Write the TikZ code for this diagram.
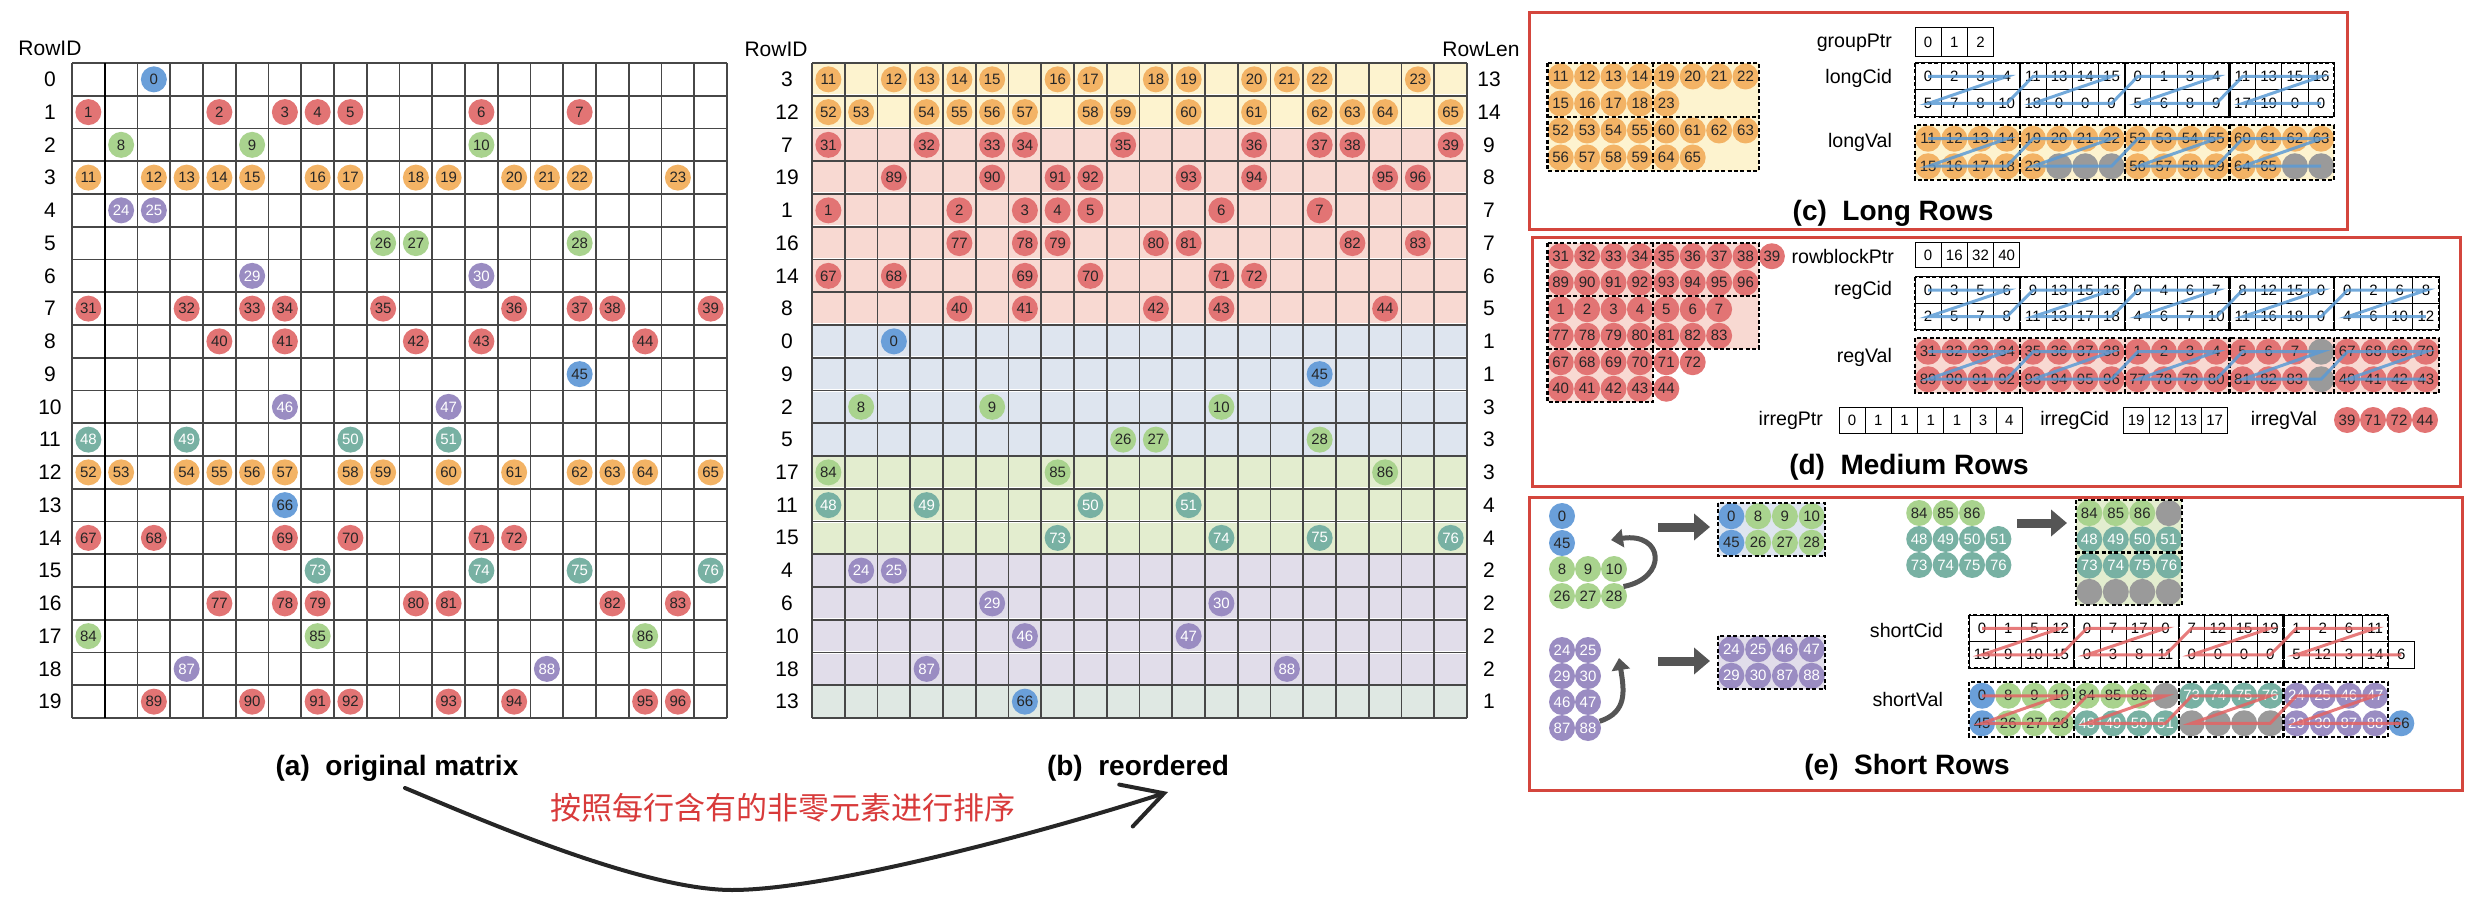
\documentclass[tikz,border=0pt]{standalone}
\usepackage{fontspec}
\setmainfont{Liberation Sans}
\newfontfamily\cjk{Noto Sans CJK SC}
\usetikzlibrary{arrows.meta}
\usepackage{xcolor}

\definecolor{cred}{HTML}{E27474}
\definecolor{corange}{HTML}{F3B365}
\definecolor{cgreen}{HTML}{A9D38E}
\definecolor{cteal}{HTML}{78B1A3}
\definecolor{cpurple}{HTML}{9A8CC2}
\definecolor{cblue}{HTML}{6A9FD9}
\definecolor{cpad}{HTML}{9A9A9A}
\definecolor{bgyellow}{HTML}{FDF3CF}
\definecolor{bgred}{HTML}{F8D9D2}
\definecolor{bgblue}{HTML}{DEE5EF}
\definecolor{bggreen}{HTML}{E3EDCF}
\definecolor{bgpurple}{HTML}{E1DDEA}
\definecolor{bgteal}{HTML}{DFE8E3}
\definecolor{zblue}{HTML}{5B9BD5}
\definecolor{zred}{HTML}{E36464}
\definecolor{frame}{HTML}{D4463D}
\definecolor{note}{HTML}{D83A3A}
\definecolor{arrowgray}{HTML}{555555}

\tikzset{
  dot/.style={circle, inner sep=0pt, minimum size=13pt, text=black!85, font=\fontsize{7.5}{8}\selectfont},
  vr/.style={dot, fill=cred},
  vo/.style={dot, fill=corange},
  vg/.style={dot, fill=cgreen},
  vt/.style={dot, fill=cteal, text=white},
  vp/.style={dot, fill=cpurple, text=white},
  vb/.style={dot, fill=cblue},
  vx/.style={dot, fill=cpad},
  gridline/.style={draw=black!72, line width=0.9pt},
  idx/.style={draw=black, line width=0.5pt, inner sep=0pt, minimum width=13.1pt, font=\fontsize{7.5}{8}\selectfont},
  grp/.style={draw=black, line width=1.1pt, dash pattern=on 2pt off 1.2pt},
  zigb/.style={draw=zblue, line width=1.5pt, opacity=0.85},
  zigr/.style={draw=zred, line width=1.5pt, opacity=0.85},
  tag/.style={anchor=east, font=\fontsize{9.8}{12}\selectfont},
  rowlbl/.style={font=\fontsize{10.5}{12}\selectfont},
  caption/.style={font=\fontsize{14}{16}\selectfont\bfseries},
  panel/.style={draw=frame, line width=1.5pt},
  fatarrow/.style={draw=arrowgray, line width=4.5pt, -{Triangle[length=8pt,width=13pt]}},
  curvarrow/.style={draw=arrowgray, line width=2.5pt, -{Triangle[length=6pt,width=9pt]}},
  sortarrow/.style={draw=black!85, line width=2pt, line cap=round, -{Straight Barb[length=20pt,width=22pt,line cap=round]}},
}

% boxed index cells: name, left, top, height, values
\newcommand\idxrow[5]{%
  \foreach \v [count=\i from 0] in {#5}
    \node[idx, minimum height=#4*0.5pt] (#1-\i) at ({#2+26.2*(\i+0.5)},{#3+#4/2}) {\v};
}
% row of value circles: name, left, centre y, cell width, style/value list
\newcommand\valrow[5]{%
  \foreach \s/\v [count=\i from 0] in {#5}
    \node[\s] (#1-\i) at ({#2+#4*(\i+0.5)},#3) {\v};
}
% dashed groups of four columns: left, top, bottom, cell width, number of groups
\newcommand\groups[5]{%
  \foreach \g in {1,...,#5}
    \draw[grp] ({#1+4*#4*(\g-1)},#2) rectangle ({#1+4*#4*\g},#3);
}
% zig-zag through two rows: style, top row, bottom row, last group, extra path
\newcommand\zigzag[5]{%
  \draw[#1] (#2-0.center) \foreach \g [evaluate=\g as \ga using int(4*\g), evaluate=\g as \gb using int(4*\g+3)] in {0,...,#4} {
    -- (#2-\ga.center) -- (#2-\gb.center) -- (#3-\ga.center) -- (#3-\gb.center) } #5;
}

\begin{document}
\begin{tikzpicture}[x=0.5pt, y=-0.5pt]
\useasboundingbox (0,0) rectangle (2482,898);

% row bands of the reordered matrix
\foreach \bg [count=\p from 0] in {bgyellow,bgyellow,bgred,bgred,bgred,bgred,bgred,bgred,bgblue,bgblue,bgblue,bgblue,bggreen,bggreen,bggreen,bgpurple,bgpurple,bgpurple,bgpurple,bgteal}
  \fill[\bg] (812,{63+32.75*\p+1}) rectangle (1467,{63+32.75*(\p+1)-1.5});

\foreach \i in {0,...,20} {
  \draw[gridline] ({72+32.75*\i},63) -- ({72+32.75*\i},718);
  \draw[gridline] (72,{63+32.75*\i}) -- (727,{63+32.75*\i});
  \draw[gridline] ({812+32.75*\i},63) -- ({812+32.75*\i},718);
  \draw[gridline] (812,{63+32.75*\i}) -- (1467,{63+32.75*\i});
}
\draw[gridline, draw=black, line width=1.2pt] (104.75,63) -- (104.75,718);

% row / position in (b) / colour / length / col-value pairs
\foreach \r/\p/\s/\len/\cells in {
  0/8/vb/1/{2/0},
  1/4/vr/7/{0/1,4/2,6/3,7/4,8/5,12/6,15/7},
  2/10/vg/3/{1/8,5/9,12/10},
  3/0/vo/13/{0/11,2/12,3/13,4/14,5/15,7/16,8/17,10/18,11/19,13/20,14/21,15/22,18/23},
  4/15/vp/2/{1/24,2/25},
  5/11/vg/3/{9/26,10/27,15/28},
  6/16/vp/2/{5/29,12/30},
  7/2/vr/9/{0/31,3/32,5/33,6/34,9/35,13/36,15/37,16/38,19/39},
  8/7/vr/5/{4/40,6/41,10/42,12/43,17/44},
  9/9/vb/1/{15/45},
  10/17/vp/2/{6/46,11/47},
  11/13/vt/4/{0/48,3/49,8/50,11/51},
  12/1/vo/14/{0/52,1/53,3/54,4/55,5/56,6/57,8/58,9/59,11/60,13/61,15/62,16/63,17/64,19/65},
  13/19/vb/1/{6/66},
  14/6/vr/6/{0/67,2/68,6/69,8/70,12/71,13/72},
  15/14/vt/4/{7/73,12/74,15/75,19/76},
  16/5/vr/7/{4/77,6/78,7/79,10/80,11/81,16/82,18/83},
  17/12/vg/3/{0/84,7/85,17/86},
  18/18/vp/2/{3/87,14/88},
  19/3/vr/8/{2/89,5/90,7/91,8/92,11/93,13/94,17/95,18/96}} {
  \pgfmathsetmacro\ya{63+32.75*(\r+0.5)}
  \pgfmathsetmacro\yb{63+32.75*(\p+0.5)}
  \node[rowlbl] (ra\r) at (50,\ya) {\r};
  \node[rowlbl] (rb\r) at (787,\yb) {\r};
  \node[rowlbl] (rl\r) at (1489,\yb) {\len};
  \foreach \c/\v in \cells {
    \node[\s] (a\v) at ({72+32.75*(\c+0.5)},\ya) {\v};
    \node[\s] (b\v) at ({812+32.75*(\c+0.5)},\yb) {\v};
  }
}

\node[rowlbl] (ida) at (50,48) {RowID};
\node[rowlbl] (idb) at (776,49) {RowID};
\node[rowlbl] (lenb) at (1481,49) {RowLen};
\node[caption] (capa) at (397,768) {(a)\ \ original matrix};
\node[caption] (capb) at (1138,768) {(b)\ \ reordered};

\coordinate (sortfrom) at (405,788);
\coordinate (sortto) at (1168,792);
\draw[sortarrow] (sortfrom) .. controls (470,815) and (640,890) .. (732,890) .. controls (830,890) and (1050,830) .. (sortto);
\node[text=note, font=\fontsize{15.5}{18}\selectfont\cjk] (sorttxt) at (783,808) {按照每行含有的非零元素进行排序};

% (c) long rows
\draw[panel] (1529,13) rectangle (2347,230);
\fill[bgyellow] (1547.5,63) rectangle (1758.7,171);
\valrow{cl0}{1547.5}{76.5}{26.4}{vo/11,vo/12,vo/13,vo/14,vo/19,vo/20,vo/21,vo/22}
\valrow{cl1}{1547.5}{103.5}{26.4}{vo/15,vo/16,vo/17,vo/18,vo/23}
\valrow{cl2}{1547.5}{130.5}{26.4}{vo/52,vo/53,vo/54,vo/55,vo/60,vo/61,vo/62,vo/63}
\valrow{cl3}{1547.5}{157.5}{26.4}{vo/56,vo/57,vo/58,vo/59,vo/64,vo/65}
\draw[grp] (1547.5,63) rectangle (1758.7,171);
\draw[grp] (1653.1,63) -- (1653.1,171);
\draw[grp] (1547.5,117) -- (1758.7,117);

\node[tag] (gptag) at (1899,43) {groupPtr};
\idxrow{gp}{1915}{28}{29}{0,1,2}

\node[tag] (lctag) at (1899,78) {longCid};
\idxrow{lcA}{1915}{63}{27}{0,2,3,4,11,13,14,15,0,1,3,4,11,13,15,16}
\idxrow{lcB}{1915}{90}{27}{5,7,8,10,18,0,0,0,5,6,8,9,17,19,0,0}
\groups{1915}{63}{117}{26.2}{4}
\zigzag{zigb}{lcA}{lcB}{3}{}

\node[tag] (lvtag) at (1899,142) {longVal};
\fill[bgyellow] (1915,125) rectangle (2334.2,180);
\valrow{lvA}{1915}{138.75}{26.2}{vo/11,vo/12,vo/13,vo/14,vo/19,vo/20,vo/21,vo/22,vo/52,vo/53,vo/54,vo/55,vo/60,vo/61,vo/62,vo/63}
\valrow{lvB}{1915}{166.25}{26.2}{vo/15,vo/16,vo/17,vo/18,vo/23,vx/{},vx/{},vx/{},vo/56,vo/57,vo/58,vo/59,vo/64,vo/65,vx/{},vx/{}}
\groups{1915}{125}{180}{26.2}{4}
\zigzag{zigb}{lvA}{lvB}{3}{}
\node[caption] (capc) at (1893,213) {(c)\ \ Long Rows};

% (d) medium rows
\draw[panel] (1532,238) rectangle (2460,486);
\fill[bgred] (1547.5,243) rectangle (1758.7,349);
\fill[bgred] (1547.5,349) rectangle (1653.1,402);
\valrow{dl0}{1547.5}{256.25}{26.4}{vr/31,vr/32,vr/33,vr/34,vr/35,vr/36,vr/37,vr/38,vr/39}
\valrow{dl1}{1547.5}{282.75}{26.4}{vr/89,vr/90,vr/91,vr/92,vr/93,vr/94,vr/95,vr/96}
\valrow{dl2}{1547.5}{309.25}{26.4}{vr/1,vr/2,vr/3,vr/4,vr/5,vr/6,vr/7}
\valrow{dl3}{1547.5}{335.75}{26.4}{vr/77,vr/78,vr/79,vr/80,vr/81,vr/82,vr/83}
\valrow{dl4}{1547.5}{362.25}{26.4}{vr/67,vr/68,vr/69,vr/70,vr/71,vr/72}
\valrow{dl5}{1547.5}{388.75}{26.4}{vr/40,vr/41,vr/42,vr/43,vr/44}
\draw[grp] (1547.5,243) -- (1758.7,243) -- (1758.7,349) -- (1653.1,349) -- (1653.1,402) -- (1547.5,402) -- cycle;
\draw[grp] (1653.1,243) -- (1653.1,349);
\draw[grp] (1547.5,296) -- (1758.7,296);
\draw[grp] (1547.5,349) -- (1653.1,349);

\node[tag] (rbtag) at (1901,256) {rowblockPtr};
\idxrow{rbp}{1915}{243}{25}{0,16,32,40}

\node[tag] (rctag) at (1899,290) {regCid};
\idxrow{rcA}{1915}{277}{26.5}{0,3,5,6,9,13,15,16,0,4,6,7,8,12,15,0,0,2,6,8}
\idxrow{rcB}{1915}{303.5}{26.5}{2,5,7,8,11,13,17,18,4,6,7,10,11,16,18,0,4,6,10,12}
\groups{1915}{277}{330}{26.2}{5}
\zigzag{zigb}{rcA}{rcB}{4}{}

\node[tag] (rvtag) at (1899,357) {regVal};
\fill[bgred] (1915,338) rectangle (2439,393);
\valrow{rvA}{1915}{351.75}{26.2}{vr/31,vr/32,vr/33,vr/34,vr/35,vr/36,vr/37,vr/38,vr/1,vr/2,vr/3,vr/4,vr/5,vr/6,vr/7,vx/{},vr/67,vr/68,vr/69,vr/70}
\valrow{rvB}{1915}{379.25}{26.2}{vr/89,vr/90,vr/91,vr/92,vr/93,vr/94,vr/95,vr/96,vr/77,vr/78,vr/79,vr/80,vr/81,vr/82,vr/83,vx/{},vr/40,vr/41,vr/42,vr/43}
\groups{1915}{338}{393}{26.2}{5}
\zigzag{zigb}{rvA}{rvB}{4}{}

\node[tag] (iptag) at (1830,420) {irregPtr};
\idxrow{ip}{1839}{407}{26}{0,1,1,1,1,3,4}
\node[tag] (ictag) at (2116,420) {irregCid};
\idxrow{ic}{2123}{407}{26}{19,12,13,17}
\node[tag] (ivtag) at (2324,420) {irregVal};
\valrow{iv}{2334}{420}{26}{vr/39,vr/71,vr/72,vr/44}
\node[caption] (capd) at (1909,467) {(d)\ \ Medium Rows};

% (e) short rows
\draw[panel] (1529,497) rectangle (2462,790);
\node[vb] (e0) at (1562,516) {0};
\node[vb] (e45) at (1562,543) {45};
\valrow{eg0}{1549}{569}{26}{vg/8,vg/9,vg/10}
\valrow{eg1}{1549}{596}{26}{vg/26,vg/27,vg/28}
\coordinate (bendend1) at (1611,540);
\draw[curvarrow] (eg1-2.north east) .. controls (1668,578) and (1664,532) .. (bendend1);
\coordinate (fat1s) at (1658,527);
\coordinate (fat1t) at (1710,527);
\draw[fatarrow] (fat1s) -- (fat1t);
\fill[bgblue] (1718,503) rectangle (1825,556);
\valrow{eb1A}{1718}{516.25}{26.75}{vb/0,vg/8,vg/9,vg/10}
\valrow{eb1B}{1718}{542.75}{26.75}{vb/45,vg/26,vg/27,vg/28}
\draw[grp] (1718,503) rectangle (1825,556);

\valrow{ep0}{1549}{650}{26}{vp/24,vp/25}
\valrow{ep1}{1549}{676}{26}{vp/29,vp/30}
\valrow{ep2}{1549}{702}{26}{vp/46,vp/47}
\valrow{ep3}{1549}{728}{26}{vp/87,vp/88}
\coordinate (bendend2) at (1619,658);
\draw[curvarrow] (ep3-1.30) .. controls (1628,712) and (1624,690) .. (bendend2);
\coordinate (fat2s) at (1658,661);
\coordinate (fat2t) at (1710,661);
\draw[fatarrow] (fat2s) -- (fat2t);
\fill[bgpurple] (1718,636) rectangle (1825,689);
\valrow{eb2A}{1718}{649.25}{26.75}{vp/24,vp/25,vp/46,vp/47}
\valrow{eb2B}{1718}{675.75}{26.75}{vp/29,vp/30,vp/87,vp/88}
\draw[grp] (1718,636) rectangle (1825,689);

\valrow{eq0}{1906}{513}{26.4}{vg/84,vg/85,vg/86}
\valrow{eq1}{1906}{539}{26.4}{vt/48,vt/49,vt/50,vt/51}
\valrow{eq2}{1906}{565}{26.4}{vt/73,vt/74,vt/75,vt/76}
\coordinate (fat3s) at (2017,523);
\coordinate (fat3t) at (2067,523);
\draw[fatarrow] (fat3s) -- (fat3t);
\fill[bggreen] (2076,500) rectangle (2182,605);
\valrow{eb3A}{2076}{513.1}{26.5}{vg/84,vg/85,vg/86,vx/{}}
\valrow{eb3B}{2076}{539.4}{26.5}{vt/48,vt/49,vt/50,vt/51}
\valrow{eb3C}{2076}{565.6}{26.5}{vt/73,vt/74,vt/75,vt/76}
\valrow{eb3D}{2076}{591.9}{26.5}{vx/{},vx/{},vx/{},vx/{}}
\draw[grp] (2076,500) rectangle (2182,605);
\draw[grp] (2076,552.5) -- (2182,552.5);

\node[tag] (sctag) at (1950,630) {shortCid};
\idxrow{scA}{1969}{615}{26.5}{0,1,5,12,0,7,17,0,7,12,15,19,1,2,6,11}
\idxrow{scB}{1969}{641.5}{26.5}{15,9,10,15,0,3,8,11,0,0,0,0,5,12,3,14,6}
\groups{1969}{615}{668}{26.2}{4}
\zigzag{zigr}{scA}{scB}{3}{-- (scB-16.center)}

\node[tag] (svtag) at (1950,699) {shortVal};
\valrow{svA}{1969}{695.75}{26.2}{vb/0,vg/8,vg/9,vg/10,vg/84,vg/85,vg/86,vx/{},vt/73,vt/74,vt/75,vt/76,vp/24,vp/25,vp/46,vp/47}
\valrow{svB}{1969}{723.25}{26.2}{vb/45,vg/26,vg/27,vg/28,vt/48,vt/49,vt/50,vt/51,vx/{},vx/{},vx/{},vx/{},vp/29,vp/30,vp/87,vp/88,vb/66}
\groups{1969}{682}{737}{26.2}{4}
\zigzag{zigr}{svA}{svB}{3}{-- (svB-16.center)}
\node[caption] (cape) at (1907,767) {(e)\ \ Short Rows};
\end{tikzpicture}
\end{document}
